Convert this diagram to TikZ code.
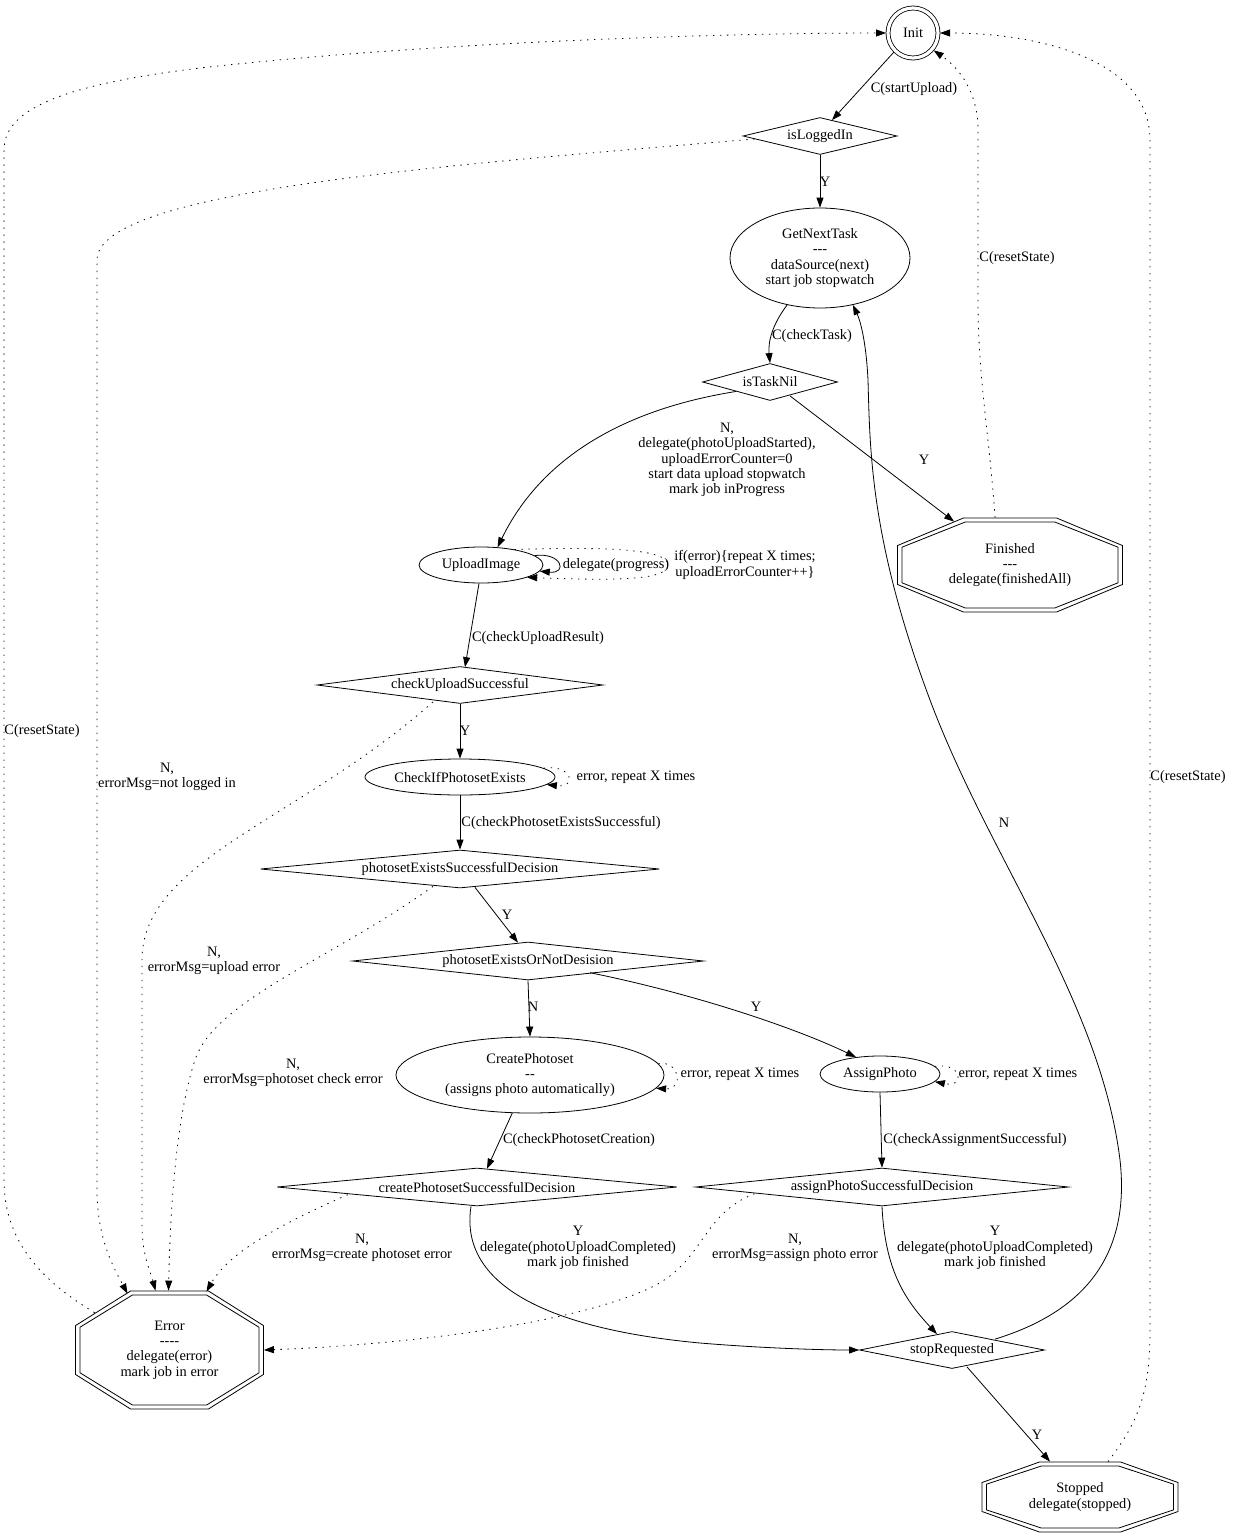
\documentclass[tikz,border=0pt]{standalone}
\usepackage{fontspec}
\setmainfont{Liberation Serif}
\usetikzlibrary{shapes.geometric,arrows.meta,calc}
\newcommand\dsh{\mbox{-}}
\newcommand\octpath[2]{({(#1)*0.4142},{#2}) -- ({#1},{(#2)*0.4142}) -- ({#1},{-(#2)*0.4142}) -- ({(#1)*0.4142},{-(#2)}) -- ({-(#1)*0.4142},{-(#2)}) -- ({-(#1)},{-(#2)*0.4142}) -- ({-(#1)},{(#2)*0.4142}) -- ({-(#1)*0.4142},{#2}) -- cycle}
\newcommand\dbloct[5]{\draw[shift={(#1.center)}] \octpath{#2}{#3}; \draw[shift={(#1.center)}] \octpath{#4}{#5};}
\begin{document}
\begin{tikzpicture}[x=1pt,y=-1pt, line width=0.8pt,
  every node/.style={font=\fontsize{14.4pt}{15.3pt}\selectfont},
  dcirc/.style={circle, draw, double, double distance=3.2pt, minimum size=50pt, inner sep=0pt, outer sep=2pt},
  dec/.style={diamond, draw, inner sep=0pt},
  ell/.style={ellipse, draw, inner sep=0pt, align=center},
  octo/.style={rectangle, inner sep=0pt, align=center},
  lbl/.style={inner sep=0pt, align=center},
  arr/.style={-{Triangle[length=10pt,width=7pt]}},
  dotl/.style={dash pattern=on 1.4pt off 5.6pt},
]
\useasboundingbox (0,0) rectangle (1233,1536);
% nodes
\node[dcirc] (init) at (913,33) {Init};
\node[dec, minimum width=154pt, minimum height=37pt, aspect=4.16] (login) at (820,136) {isLoggedIn};
\node[ell, minimum width=180pt, minimum height=100pt] (gnt) at (820,258) {GetNextTask\\\dsh\dsh\dsh\\dataSource(next)\\start job stopwatch};
\node[dec, minimum width=135pt, minimum height=37pt, aspect=3.65] (tasknil) at (770,382) {isTaskNil};
\node[octo, minimum width=225pt, minimum height=94pt] (fin) at (1010,565) {Finished\\\dsh\dsh\dsh\\delegate(finishedAll)};
\node[ell, minimum width=124pt, minimum height=36pt] (upload) at (481,565) {UploadImage};
\node[dec, minimum width=286pt, minimum height=37pt, aspect=7.73] (chkup) at (460,685) {checkUploadSuccessful};
\node[ell, minimum width=190pt, minimum height=36pt] (cipe) at (460,777) {CheckIfPhotosetExists};
\node[dec, minimum width=399pt, minimum height=38pt, aspect=10.5] (pesd) at (460,869) {photosetExistsSuccessfulDecision};
\node[dec, minimum width=351pt, minimum height=38pt, aspect=9.24] (peond) at (528,961) {photosetExistsOrNotDesision};
\node[ell, minimum width=268pt, minimum height=76pt] (cp) at (530,1075) {CreatePhotoset\\\dsh\dsh\\(assigns photo automatically)};
\node[ell, minimum width=120pt, minimum height=36pt] (ap) at (880,1074) {AssignPhoto};
\node[dec, minimum width=400pt, minimum height=38pt, aspect=10.5] (cpsd) at (477,1187) {createPhotosetSuccessfulDecision};
\node[dec, minimum width=373pt, minimum height=38pt, aspect=9.8] (apsd) at (882,1187) {assignPhotoSuccessfulDecision};
\node[octo, minimum width=188pt, minimum height=118pt] (err) at (169.5,1350) {Error\\\dsh\dsh\dsh\dsh\\delegate(error)\\mark job in error};
\node[dec, minimum width=185pt, minimum height=37pt, aspect=5] (sr) at (952,1350) {stopRequested};
\node[octo, minimum width=196pt, minimum height=70pt] (stopped) at (1080,1497) {Stopped\\delegate(stopped)};
\dbloct{fin}{112.5}{47}{108}{43}
\dbloct{err}{94}{59}{89.5}{55}
\dbloct{stopped}{98}{35}{93.5}{31}
% edges
\draw[arr] (init.225) -- ($(login.north)+(12,3)$);
\draw[arr] (login.south) -- (gnt.north);
\draw[arr] (gnt.235) .. controls (772,325) and (768,342) .. (tasknil.north);
\draw[arr] (tasknil.south west) .. controls (620,410) and (540,460) .. (upload.47);
\draw[arr] ($(tasknil.south)+(20,-5)$) -- ($(fin.north west)+(57,4)$);
\draw[dotl,arr] ($(fin.north)+(-15,0)$) .. controls (990,440) and (978,380) .. (978,300) -- (978,130) .. controls (978,95) and (962,70) .. (init.-40);
\draw[arr] (upload.10) .. controls (562,552) and (568,574) .. (upload.-6);
\draw[dotl,arr] (upload.25) .. controls (600,547) and (668,548) .. (668,565) .. controls (668,582) and (600,580) .. (upload.-15);
\draw[arr] ($(upload.south)+(-2,0)$) -- ($(chkup.north)+(5,1)$);
\draw[arr] (chkup.south) -- (cipe.north);
\draw[dotl,arr] ($(chkup.south)+(-27,-2)$) .. controls (300,820) and (142,860) .. (142,960) -- (142,1225) .. controls (142,1255) and (150,1270) .. ($(err.north)+(-14,0)$);
\draw[dotl,arr] ($(login.west)+(12,3)$) .. controls (450,165) and (97,190) .. (97,260) -- (97,1190) .. controls (97,1240) and (115,1270) .. ($(err.north)+(-42,3)$);
\draw[dotl,arr] (cipe.6) .. controls (572,764) and (578,788) .. (cipe.-5);
\draw[arr] (cipe.south) -- (pesd.north);
\draw[dotl,arr] ($(pesd.south)+(-27,-2)$) .. controls (330,960) and (215,1000) .. (195,1060) .. controls (175,1120) and (170,1220) .. ($(err.north)+(-1,0)$);
\draw[arr] ($(pesd.south)+(15,-1)$) -- ($(peond.north)+(-10,1)$);
\draw[arr] (peond.south) -- (cp.north);
\draw[arr] ($(peond.south east)+(-26,2)$) .. controls (700,995) and (800,1030) .. (ap.145);
\draw[dotl,arr] (cp.5) .. controls (680,1060) and (684,1090) .. (cp.-6);
\draw[dotl,arr] (ap.8) .. controls (962,1062) and (966,1088) .. (ap.-8);
\draw[arr] (cp.245) -- ($(cpsd.north)+(10,1)$);
\draw[arr] (ap.south) -- (apsd.north);
\draw[dotl,arr] ($(cpsd.south west)+(-29,-2)$) .. controls (290,1220) and (230,1250) .. ($(err.north)+(37,1)$);
\draw[arr] ($(cpsd.south)+(-6,0)$) .. controls (458,1290) and (560,1330) .. (700,1343) .. controls (760,1348) and (820,1350) .. (sr.west);
\draw[dotl,arr] ($(apsd.south west)+(-34,-3)$) .. controls (700,1215) and (705,1262) .. (650,1288) .. controls (570,1325) and (400,1345) .. (err.east);
\draw[arr] (apsd.south) .. controls (885,1270) and (905,1300) .. ($(sr.north)+(-15,3)$);
\draw[arr] ($(sr.north)+(43,8)$) .. controls (1090,1310) and (1130,1250) .. (1120,1160) .. controls (1100,1000) and (990,860) .. (930,700) .. controls (870,540) and (870,450) .. (868,380) .. controls (866,340) and (860,320) .. (gnt.305);
\draw[arr] ($(sr.south)+(15,-2)$) -- ($(stopped.north)+(-30,0)$);
\draw[dotl,arr] ($(stopped.north)+(28,0)$) .. controls (1140,1420) and (1150,1390) .. (1150,1330) -- (1150,140) .. controls (1150,60) and (1040,33) .. (init.east);
\draw[dotl,arr] ($(err.north west)+(19.5,22)$) .. controls (40,1280) and (4,1240) .. (4,1180) -- (4,150) .. controls (4,110) and (60,85) .. (200,68) .. controls (450,40) and (750,33) .. (init.west);
% labels
\node[lbl] (lb1) at (914,89) {C(startUpload)};
\node[lbl] (lb2) at (825,182) {Y};
\node[lbl] (lb3) at (812,336) {C(checkTask)};
\node[lbl] (lb4) at (727,460) {N,\\delegate(photoUploadStarted),\\uploadErrorCounter=0\\start data upload stopwatch\\mark job inProgress};
\node[lbl] (lb5) at (924,460) {Y};
\node[lbl] (lb6) at (1017,258) {C(resetState)};
\node[lbl] (lb7) at (616,565) {delegate(progress)};
\node[lbl] (lb8) at (745,565) {if(error)\{repeat X times;\\uploadErrorCounter++\}};
\node[lbl] (lb9) at (538,638) {C(checkUploadResult)};
\node[lbl] (lb10) at (465,731) {Y};
\node[lbl] (lb11) at (636,777) {error, repeat X times};
\node[lbl] (lb12) at (167,777) {N,\\errorMsg=not logged in};
\node[lbl] (lb13) at (561,823) {C(checkPhotosetExistsSuccessful)};
\node[lbl] (lb14) at (507,915) {Y};
\node[lbl] (lb15) at (214,961) {N,\\errorMsg=upload error};
\node[lbl] (lb16) at (533,1007) {N};
\node[lbl] (lb17) at (756,1007) {Y};
\node[lbl] (lb18) at (293,1073) {N,\\errorMsg=photoset check error};
\node[lbl] (lb19) at (740,1074) {error, repeat X times};
\node[lbl] (lb20) at (1018,1074) {error, repeat X times};
\node[lbl] (lb21) at (579,1140) {C(checkPhotosetCreation)};
\node[lbl] (lb22) at (975,1140) {C(checkAssignmentSuccessful)};
\node[lbl] (lb23) at (362,1248) {N,\\errorMsg=create photoset error};
\node[lbl] (lb24) at (578,1248) {Y\\delegate(photoUploadCompleted)\\mark job finished};
\node[lbl] (lb25) at (795,1248) {N,\\errorMsg=assign photo error};
\node[lbl] (lb26) at (995,1248) {Y\\delegate(photoUploadCompleted)\\mark job finished};
\node[lbl] (lb27) at (1004,823) {N};
\node[lbl] (lb28) at (1037,1435) {Y};
\node[lbl] (lb29) at (42,731) {C(resetState)};
\node[lbl] (lb30) at (1188,777) {C(resetState)};
\end{tikzpicture}
\end{document}
